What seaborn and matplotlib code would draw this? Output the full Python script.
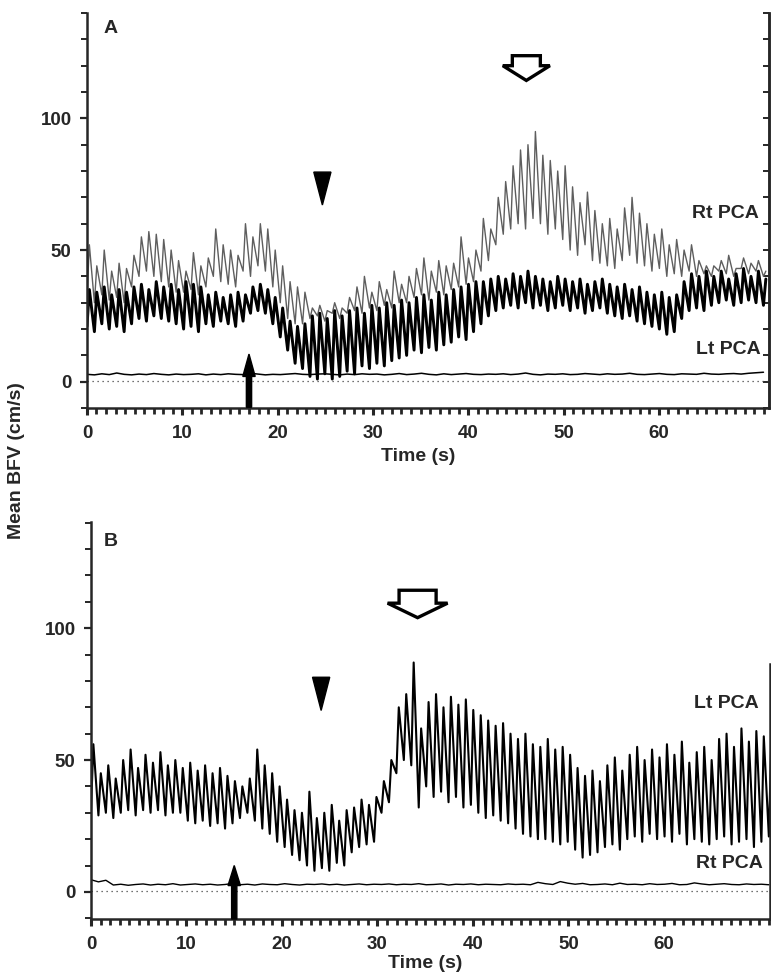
import numpy as np
import pandas as pd
import matplotlib
matplotlib.use("Agg")
import matplotlib.pyplot as plt
from matplotlib.patches import Polygon
import seaborn as sns

# ---------------------------------------------------------------------------
# Beat-by-beat readings (cm/s).  One value per cardiac cycle; the trough sits
# at the start of each cycle and the systolic peak RISE seconds later.
# ---------------------------------------------------------------------------
BEAT = 0.78
RISE = 0.25

# -- Panel A: right PCA (dark mean trace + lighter spectral peaks), left PCA flat
A_RT_LO = [21, 19, 22, 20, 21, 19, 22, 24, 23, 25,
           24, 23, 22, 20, 21, 19, 22, 21, 23, 22,
           21, 23, 26, 27, 26, 22, 17, 12, 7, 5,
           2, 1, 3, 1, 2, 4, 3, 6, 5, 7,
           6, 8, 9, 10, 12, 11, 13, 12, 14, 15,
           17, 16, 19, 22, 25, 27, 28, 29, 28, 30,
           28, 29, 27, 28, 29, 27, 28, 26, 27, 28,
           26, 25, 24, 25, 23, 22, 21, 20, 18, 19,
           24, 27, 28, 27, 29, 30, 31, 29, 30, 31,
           30, 29]
A_RT_HI = [35, 34, 36, 33, 35, 34, 36, 37, 35, 38,
           36, 37, 35, 38, 37, 36, 33, 34, 32, 33,
           34, 33, 36, 37, 35, 32, 28, 23, 21, 22,
           25, 26, 24, 27, 25, 27, 28, 26, 29, 28,
           30, 29, 31, 30, 32, 33, 31, 34, 33, 35,
           36, 37, 38, 38, 39, 40, 39, 41, 40, 42,
           40, 39, 38, 40, 39, 38, 39, 37, 38, 39,
           37, 36, 37, 35, 36, 34, 33, 34, 32, 33,
           38, 41, 40, 42, 40, 42, 39, 41, 43, 40,
           42, 39]
A_SPIKE_LO = [32, 30, 33, 31, 32, 30, 36, 40, 42, 40,
              38, 36, 34, 34, 35, 33, 36, 40, 38, 37,
              36, 42, 40, 44, 42, 36, 30, 24, 22, 22,
              24, 25, 23, 26, 24, 26, 27, 26, 28, 27,
              29, 28, 30, 30, 32, 33, 31, 34, 33, 35,
              36, 37, 38, 42, 46, 52, 56, 58, 60, 58,
              62, 60, 56, 58, 54, 50, 48, 52, 46, 45,
              44, 43, 46, 48, 45, 44, 42, 43, 40, 41,
              40, 42, 40, 41, 40, 42, 41, 40, 43, 41,
              42, 40]
A_SPIKE_HI = [52, 44, 50, 42, 45, 43, 48, 55, 57, 56,
              54, 50, 46, 42, 49, 44, 47, 58, 52, 50,
              48, 60, 55, 60, 58, 50, 44, 38, 36, 34,
              28, 29, 27, 30, 28, 32, 36, 40, 34, 38,
              35, 42, 37, 40, 43, 47, 42, 46, 44, 45,
              55, 47, 50, 62, 58, 70, 76, 82, 88, 90,
              95, 86, 84, 80, 82, 74, 68, 72, 65, 60,
              62, 58, 66, 70, 64, 60, 56, 58, 52, 54,
              50, 52, 46, 44, 44, 46, 48, 43, 47, 45,
              46, 42]
A_LT = [2.8, 2.6, 3.0, 2.7, 3.3, 2.8, 2.6, 2.9, 2.7, 3.1,
        2.8, 2.6, 2.9, 2.7, 2.8, 3.0, 2.6, 2.9, 2.7, 3.0,
        2.8, 2.7, 3.2, 2.9, 2.6, 2.8, 2.7, 2.9, 3.1, 2.8,
        2.7, 2.9, 3.0, 2.8, 2.6, 2.9, 2.7, 3.0, 2.8, 2.9,
        2.6, 2.8, 3.1, 2.7, 2.9, 3.2, 2.8, 2.6, 3.0, 2.7,
        2.9, 3.1, 2.8, 2.7, 2.9, 2.8, 3.0, 2.7, 2.9, 3.3,
        2.8, 2.6, 2.9, 2.8, 3.0, 2.7, 2.8, 3.1, 2.9, 2.7,
        3.0, 2.8, 2.9, 3.2, 2.8, 2.7, 2.9, 3.1, 2.8, 2.7,
        3.0, 2.9, 2.8, 3.2, 2.9, 2.8, 3.0, 3.1, 2.9, 3.2,
        3.4, 3.6]

# -- Panel B: left PCA active, right PCA flat
B_LT_LO = [31, 29, 30, 28, 30, 31, 29, 31, 30, 31,
           29, 30, 30, 27, 26, 27, 25, 26, 24, 26,
           28, 30, 27, 24, 22, 19, 17, 14, 12, 10,
           8, 9, 8, 11, 10, 15, 17, 18, 19, 30,
           34, 45, 50, 48, 32, 40, 36, 38, 34, 36,
           32, 33, 30, 28, 29, 27, 26, 24, 22, 21,
           20, 20, 19, 18, 19, 16, 13, 14, 15, 17,
           18, 16, 20, 21, 19, 22, 20, 21, 19, 22,
           18, 20, 19, 18, 20, 21, 18, 19, 20, 17,
           19, 21]
B_LT_HI = [56, 45, 48, 43, 50, 54, 47, 52, 49, 53,
           48, 50, 47, 49, 46, 48, 45, 47, 44, 42,
           40, 43, 54, 48, 45, 40, 35, 31, 30, 38,
           28, 30, 33, 27, 31, 32, 35, 33, 36, 42,
           50, 70, 75, 87, 62, 72, 75, 70, 74, 71,
           73, 69, 67, 65, 63, 64, 60, 58, 60, 56,
           55, 58, 54, 55, 52, 47, 44, 46, 42, 48,
           51, 46, 52, 55, 50, 54, 51, 56, 52, 57,
           49, 53, 55, 50, 58, 60, 55, 62, 57, 61,
           59, 56]
B_RT = [4.6, 3.8, 4.4, 2.6, 2.9, 2.5, 2.8, 3.0, 2.6, 2.9,
        2.7, 3.1, 2.6, 2.8, 3.0, 2.7, 2.9, 2.6, 2.8, 3.2,
        2.7, 2.9, 2.6, 3.0, 2.8, 2.7, 3.1, 2.8, 2.6, 2.9,
        2.8, 3.0, 2.7, 2.9, 2.6, 2.8, 3.0, 2.7, 2.9, 2.8,
        3.0, 2.7, 2.9, 2.8, 3.1, 2.7, 2.8, 3.0, 2.6, 2.9,
        2.8, 3.0, 2.7, 2.9, 2.8, 2.7, 3.0, 2.8, 2.9, 2.7,
        3.6, 3.1, 2.8, 3.9, 3.3, 2.9, 3.2, 2.7, 2.8, 3.0,
        2.7, 3.3, 2.8, 2.9, 2.7, 3.1, 2.8, 2.9, 3.2, 2.7,
        2.8, 3.4, 3.0, 2.7, 2.9, 3.1, 2.8, 2.7, 3.0, 2.8,
        2.9, 2.7]

# Event times (s): stimulus onset, triangle marker, peak response
A_EVENTS = {"stim": 17.0, "tri": 24.7, "peak": 46.1}
B_EVENTS = {"stim": 15.0, "tri": 24.1, "peak": 34.2}

X_TICKS = [0, 10, 20, 30, 40, 50, 60]
Y_TICKS = [0, 50, 100]

_TICK_FS = 13.5
_LABEL_FS = 14


def _zigzag(lo, hi):
    # Interleave trough/peak readings into one continuous pulsatile trace.
    t = np.arange(len(lo)) * BEAT
    return pd.DataFrame({
        "time": np.column_stack([t, t + RISE]).ravel(),
        "bfv": np.column_stack([lo, hi]).ravel(),
    })


def _flat(vals):
    return pd.DataFrame({"time": np.arange(len(vals)) * BEAT, "bfv": vals})


def _line(df, ax, color, lw):
    sns.lineplot(data=df, x="time", y="bfv", ax=ax, color=color, lw=lw,
                 estimator=None, sort=False, legend=False)


def _markers(ax, ev, y_stim, y_tri, y_open, open_w):
    # black upward stimulus arrow standing on the x axis
    s0, s1, s2 = y_stim
    ax.arrow(ev["stim"], s0, 0, s2 - s0, width=0.55, head_width=1.3,
             head_length=s2 - s1, length_includes_head=True,
             fc="black", ec="black", clip_on=False, zorder=6)
    # filled triangle
    c = ev["tri"]
    t0, t1 = y_tri
    ax.add_patch(Polygon([(c - 0.9, t0), (c + 0.9, t0), (c, t1)],
                         closed=True, fc="black", ec="black", zorder=6))
    # open block arrow
    c = ev["peak"]
    top, base, tip = y_open
    sw, hw = open_w
    ax.add_patch(Polygon([(c - sw, top), (c + sw, top), (c + sw, base),
                          (c + hw, base), (c, tip), (c - hw, base),
                          (c - sw, base)],
                         closed=True, fc="white", ec="black", lw=2.4,
                         zorder=6, clip_on=False))


def _style_axis(ax, xmax, ylim, xlab_x, xlab_y):
    ax.set_xlim(0, xmax)
    ax.set_ylim(*ylim)
    ax.set_xticks(X_TICKS)
    ax.set_xticks(np.arange(0, int(xmax) + 1), minor=True)
    ax.set_yticks(Y_TICKS, labels=[str(v) for v in Y_TICKS])
    ax.set_yticks(np.arange(-10, 141, 10), minor=True)
    ax.set_xlabel("Time (s)", fontsize=_LABEL_FS, fontweight="bold")
    ax.xaxis.set_label_coords(xlab_x, xlab_y)
    ax.set_ylabel("")
    ax.spines["top"].set_visible(False)
    for s in ("left", "bottom", "right"):
        ax.spines[s].set_linewidth(1.8)
    ax.tick_params(axis="x", which="major", direction="out", length=5,
                   width=2.2, pad=7, labelsize=_TICK_FS)
    ax.tick_params(axis="x", which="minor", direction="out", length=4,
                   width=2.0)
    ax.tick_params(axis="y", which="major", direction="out", length=5,
                   width=1.6, pad=6, labelsize=_TICK_FS)
    ax.tick_params(axis="y", which="minor", direction="out", length=4,
                   width=1.4)
    for lab in ax.get_xticklabels() + ax.get_yticklabels():
        lab.set_fontweight("bold")


sns.set_theme(style="ticks")
plt.rcParams["font.family"] = ["Liberation Sans", "DejaVu Sans"]

fig = plt.figure(figsize=(7.71, 9.72), dpi=100)
ax_a = fig.add_axes([0.1128, 0.5802, 0.8846, 0.4064])
ax_b = fig.add_axes([0.1180, 0.0545, 0.8807, 0.4085])

# ---- Panel A ----
_line(_zigzag(A_SPIKE_LO, A_SPIKE_HI), ax_a, "#5e5e5e", 1.0)
_line(_zigzag(A_RT_LO, A_RT_HI), ax_a, "black", 2.1)
_line(_flat(A_LT), ax_a, "black", 1.1)
ax_a.axhline(0.3, color="#444444", lw=0.9, ls=(0, (1, 3)))
_style_axis(ax_a, 71.56, (-9.7, 139.8), xlab_x=0.485, xlab_y=-0.101)
sec = ax_a.secondary_yaxis("right")
sec.set_yticks(np.arange(-10, 141, 10))
sec.set_yticklabels([])
sec.tick_params(direction="in", length=4, width=1.4)
sec.spines["right"].set_linewidth(1.8)
_markers(ax_a, A_EVENTS, (-9.7, 2.0, 10.5), (79.6, 67.1),
         (123.8, 120.0, 114.4), (1.47, 2.47))
ax_a.text(0.024, 0.962, "A", transform=ax_a.transAxes, fontsize=_LABEL_FS,
          fontweight="bold", ha="left", va="center")

# ---- Panel B ----
_line(_zigzag(B_LT_LO, B_LT_HI), ax_b, "black", 1.5)
_line(_flat(B_RT), ax_b, "black", 1.0)
ax_b.axhline(0.3, color="#444444", lw=0.9, ls=(0, (1, 3)))
_style_axis(ax_b, 71.1, (-10.3, 140.3), xlab_x=0.492, xlab_y=-0.091)
ax_b.spines["right"].set_bounds(-10.3, 86.5)
_markers(ax_b, B_EVENTS, (-10.3, 2.4, 10.0), (81.4, 68.8),
         (114.4, 109.5, 104.0), (1.94, 3.14))
ax_b.text(0.019, 0.952, "B", transform=ax_b.transAxes, fontsize=_LABEL_FS,
          fontweight="bold", ha="left", va="center")

# ---- trace labels and shared y label (figure pixels -> fractions) ----
W, H = 771, 972
for txt, x, y in [("Rt PCA", 759, 213), ("Lt PCA", 761, 350),
                  ("Lt PCA", 759, 703), ("Rt PCA", 763, 863)]:
    fig.text(x / W, 1 - y / H, txt, fontsize=_LABEL_FS, fontweight="bold",
             ha="right", va="center")
fig.text(17 / W, 1 - 461 / H, "Mean BFV (cm/s)", fontsize=_LABEL_FS,
         fontweight="bold", rotation=90, ha="center", va="center")

fig.savefig("out.png", dpi=100)
